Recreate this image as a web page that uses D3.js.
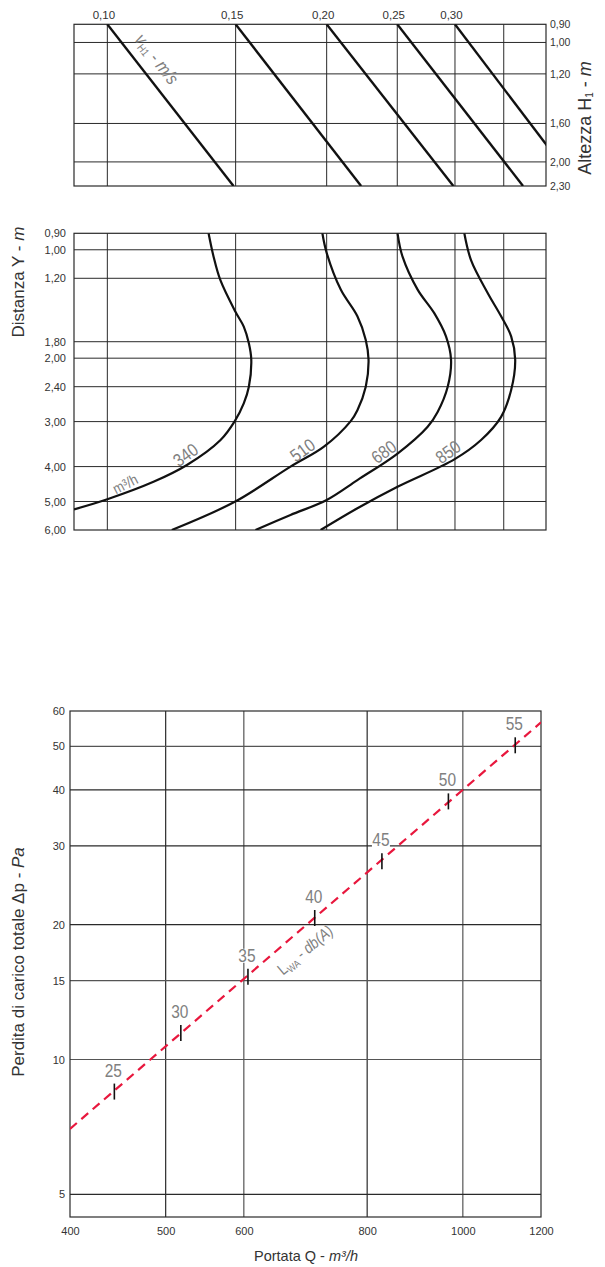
<!DOCTYPE html>
<html><head><meta charset="utf-8">
<script src="https://cdn.jsdelivr.net/npm/d3@7"></script>
<style>
body{margin:0;background:#fff;}
svg{display:block;}
.tk text{font-family:'Liberation Sans Narrow','Arial Narrow','Liberation Sans',sans-serif;font-size:11.5px;fill:#333;}
.title{font-family:'Liberation Sans',Arial,sans-serif;font-size:17px;fill:#333;}
.ann{font-family:'Liberation Sans Narrow','Arial Narrow','Liberation Sans',sans-serif;fill:#808080;}
</style></head><body>
<svg id="c" width="605" height="1267"></svg>
<script>
// ---------- DATA ----------
const velTicks = [0.10, 0.15, 0.20, 0.25, 0.30];
const velGrid = [0.10, 0.15, 0.20, 0.25, 0.30, 0.35];
const heightTicks = [0.90, 1.00, 1.20, 1.60, 2.00, 2.30];
// velocity lines: speed at H=0.90 (start) and at H=2.30 (end)
const velStart = [0.10, 0.15, 0.20, 0.25, 0.30];
const velEnd = [0.149, 0.223, 0.2985, 0.372, 0.442];

const distTicks = [0.90, 1.00, 1.20, 1.80, 2.00, 2.40, 3.00, 4.00, 5.00, 6.00];
const flowNames = ["340", "510", "680", "850"];
const curve340 = [[0.1377,0.90],[0.1399,1.045],[0.1429,1.213],[0.1499,1.486],[0.1539,1.635],[0.1564,1.819],[0.1576,2.02],[0.1564,2.40],[0.1539,2.67],[0.1496,2.99],[0.1429,3.38],[0.1286,3.96],[0.1157,4.41],[0.1000,4.93],[0.0900,5.26]];
const curve510 = [[0.1973,0.90],[0.2000,1.02],[0.2091,1.29],[0.2204,1.53],[0.2263,1.78],[0.2283,2.02],[0.2263,2.40],[0.2204,2.79],[0.2158,2.99],[0.1983,3.52],[0.1784,4.00],[0.1496,5.01],[0.1226,6.0]];
const curve680 = [[0.2502,0.90],[0.2542,1.045],[0.2666,1.29],[0.2810,1.50],[0.2916,1.74],[0.2963,2.02],[0.2932,2.40],[0.2840,2.82],[0.2752,3.10],[0.2502,3.68],[0.2204,4.36],[0.2000,4.95],[0.1784,5.45],[0.1597,6.0]];
const curve850 = [[0.3090,0.90],[0.3157,1.07],[0.3328,1.32],[0.3471,1.53],[0.3583,1.74],[0.3629,2.02],[0.3583,2.45],[0.3471,2.91],[0.3258,3.375],[0.2994,3.82],[0.2502,4.55],[0.2204,5.22],[0.1962,6.0]];
// label anchor points (velocity, distance)
const flowLabelPos = [[0.128,3.71],[0.1853,3.60],[0.2395,3.64],[0.2935,3.64]];

const qTicks = [400, 500, 600, 800, 1000, 1200];
const dpTicks = [5, 10, 15, 20, 30, 40, 50, 60];
const lwaLine = [[400, 7.0], [1200, 56.6]];
const lwaLevels = [25, 30, 35, 40, 45, 50, 55];
const lwaQ = [443.6, 518, 605.8, 707.9, 828, 966.9, 1130];
const lwaDp = [8.48, 11.46, 15.3, 20.7, 27.7, 37.7, 50.3];

// ---------- DRAW ----------
const svg = d3.select("#c");
const it = d3.formatLocale({decimal:",",thousands:".",grouping:[3],currency:["",""]});
const f2 = it.format(".2f");
const GRID = "#2a2a2a";
const NARROW = "scale(0.86,1)";

// ===== TOP CHART =====
const xV = d3.scaleLog().domain([0.09, 0.40]).range([74, 546]);
const yH = d3.scaleLog().domain([0.90, 2.30]).range([24.3, 186]);
const gT = svg.append("g");
gT.append("clipPath").attr("id","clipT").append("rect")
  .attr("x",74).attr("y",24.3).attr("width",472).attr("height",161.7);
gT.selectAll(".vg").data(velGrid).join("line")
  .attr("x1",d=>xV(d)).attr("x2",d=>xV(d)).attr("y1",yH.range()[0]).attr("y2",yH.range()[1])
  .attr("stroke",GRID).attr("stroke-width",1);
gT.selectAll(".hg").data(heightTicks.slice(1,-1)).join("line")
  .attr("x1",74).attr("x2",546).attr("y1",d=>yH(d)).attr("y2",d=>yH(d))
  .attr("stroke",GRID).attr("stroke-width",1);
gT.append("rect").attr("x",74).attr("y",24.3).attr("width",472).attr("height",161.7)
  .attr("fill","none").attr("stroke",GRID).attr("stroke-width",1.2);
const lnT = d3.line().x(d=>xV(d[0])).y(d=>yH(d[1]));
gT.append("g").attr("clip-path","url(#clipT)").selectAll("path")
  .data(velStart.map((v,i)=>[[v,0.90],[velEnd[i],2.30]])).join("path")
  .attr("d",lnT).attr("fill","none").attr("stroke","#111").attr("stroke-width",2.4);
// axes
const axT = gT.append("g").attr("class","tk").attr("transform","translate(0,24.3)")
  .call(d3.axisTop(xV).tickValues(velTicks).tickSize(0).tickPadding(5).tickFormat(f2));
axT.select(".domain").remove();
axT.selectAll("text").attr("dx",-4);
const axR = gT.append("g").attr("class","tk").attr("transform","translate(546,0)")
  .call(d3.axisRight(yH).tickValues(heightTicks).tickSize(0).tickPadding(4).tickFormat(f2));
axR.select(".domain").remove();
axR.selectAll("text").style("font-size","10.5px");
// title right
const tR = svg.append("text").attr("class","title").style("font-size","18px")
  .attr("transform","translate(591,118) rotate(-90)").attr("text-anchor","middle");
tR.append("tspan").text("Altezza H");
tR.append("tspan").attr("font-size","10px").attr("dy",2).text("1");
tR.append("tspan").attr("dy",-2).text(" - ");
tR.append("tspan").attr("font-style","italic").text("m");
// v label
const vl = svg.append("text").attr("class","ann").style("font-size","18px")
  .attr("transform",`translate(${xV(0.1170)},${yH(1.100)}) rotate(52) ${NARROW}`).attr("text-anchor","middle").attr("dy","0.35em");
vl.append("tspan").attr("font-style","italic").text("v");
vl.append("tspan").attr("font-size","11px").attr("dy",3).text("H1");
vl.append("tspan").attr("dy",-3).text(" - ");
vl.append("tspan").attr("font-style","italic").text("m/s");

// ===== MIDDLE CHART =====
const yY = d3.scaleLog().domain([0.90, 6.0]).range([233.3, 530]);
const gM = svg.append("g");
gM.append("clipPath").attr("id","clipM").append("rect")
  .attr("x",74).attr("y",233.3).attr("width",472).attr("height",296.7);
gM.selectAll(".vg").data(velGrid).join("line")
  .attr("x1",d=>xV(d)).attr("x2",d=>xV(d)).attr("y1",yY.range()[0]).attr("y2",yY.range()[1])
  .attr("stroke",GRID).attr("stroke-width",1);
gM.selectAll(".hg").data(distTicks.slice(1,-1)).join("line")
  .attr("x1",74).attr("x2",546).attr("y1",d=>yY(d)).attr("y2",d=>yY(d))
  .attr("stroke",GRID).attr("stroke-width",1);
gM.append("rect").attr("x",74).attr("y",233.3).attr("width",472).attr("height",296.7)
  .attr("fill","none").attr("stroke",GRID).attr("stroke-width",1.2);
const lnM = d3.line().x(d=>xV(d[0])).y(d=>yY(d[1])).curve(d3.curveCatmullRom.alpha(0.5));
gM.append("g").attr("clip-path","url(#clipM)").selectAll("path")
  .data([curve340, curve510, curve680, curve850]).join("path")
  .attr("d",lnM).attr("fill","none").attr("stroke","#111").attr("stroke-width",2.2);
const axM = gM.append("g").attr("class","tk").attr("transform","translate(74,0)")
  .call(d3.axisLeft(yY).tickValues(distTicks).tickSize(0).tickPadding(8).tickFormat(f2));
axM.select(".domain").remove();
axM.selectAll("text").style("font-size","11px");
gM.selectAll(".fl").data(flowNames).join("text").attr("class","ann").style("font-size","18px")
  .attr("text-anchor","middle").attr("dy","0.35em")
  .attr("transform",(d,i)=>`translate(${xV(flowLabelPos[i][0])},${yY(flowLabelPos[i][1])}) rotate(-36) ${NARROW}`)
  .text(d=>d);
const mh = gM.append("text").attr("class","ann").style("font-size","15px")
  .attr("text-anchor","middle").attr("dy","0.35em")
  .attr("transform",`translate(${xV(0.1058)},${yY(4.47)}) rotate(-27) ${NARROW}`);
mh.append("tspan").text("m³/h");
const tM = svg.append("text").attr("class","title")
  .attr("transform","translate(24,282) rotate(-90)").attr("text-anchor","middle");
tM.append("tspan").text("Distanza Y - ");
tM.append("tspan").attr("font-style","italic").text("m");

// ===== BOTTOM CHART =====
const xQ = d3.scaleLog().domain([400, 1200]).range([70, 541]);
const yP = d3.scaleLog().domain([4.45, 60]).range([1217, 711]);
const gB = svg.append("g");
gB.append("clipPath").attr("id","clipB").append("rect")
  .attr("x",70).attr("y",711).attr("width",471).attr("height",506);
gB.selectAll(".vg").data(qTicks.slice(1,-1)).join("line")
  .attr("x1",d=>xQ(d)).attr("x2",d=>xQ(d)).attr("y1",711).attr("y2",1217)
  .attr("stroke",(d,i)=>i%2?"#555":GRID).attr("stroke-width",1.2);
gB.selectAll(".hg").data(dpTicks.slice(0,-1)).join("line")
  .attr("x1",70).attr("x2",541).attr("y1",d=>yP(d)).attr("y2",d=>yP(d))
  .attr("stroke",(d)=>(d===10||d===50||d===15)?"#555":GRID).attr("stroke-width",1.2);
gB.append("rect").attr("x",70).attr("y",711).attr("width",471).attr("height",506)
  .attr("fill","none").attr("stroke",GRID).attr("stroke-width",1.2);
const axB = gB.append("g").attr("class","tk").attr("transform","translate(0,1217)")
  .call(d3.axisBottom(xQ).tickValues(qTicks).tickSize(0).tickPadding(10).tickFormat(d3.format("d")));
axB.select(".domain").remove();
axB.selectAll("text").style("font-size","11px");
const axL = gB.append("g").attr("class","tk").attr("transform","translate(70,0)")
  .call(d3.axisLeft(yP).tickValues(dpTicks).tickSize(0).tickPadding(5).tickFormat(d3.format("d")));
axL.select(".domain").remove();
axL.selectAll("text").style("font-size","11px");
// dashed line
const lnB = d3.line().x(d=>xQ(d[0])).y(d=>yP(d[1]));
gB.append("path").datum(lwaLine).attr("clip-path","url(#clipB)").attr("d",lnB)
  .attr("fill","none").attr("stroke","#e8173d").attr("stroke-width",2.2).attr("stroke-dasharray","9,6");
// markers
gB.selectAll(".mk").data(lwaLevels).join("line")
  .attr("x1",(d,i)=>xQ(lwaQ[i])).attr("x2",(d,i)=>xQ(lwaQ[i]))
  .attr("y1",(d,i)=>yP(lwaDp[i])-8).attr("y2",(d,i)=>yP(lwaDp[i])+8)
  .attr("stroke","#111").attr("stroke-width",1.6);
const lab = gB.selectAll(".lb").data(lwaLevels).join("g")
  .attr("transform",(d,i)=>`translate(${xQ(lwaQ[i])-1},${yP(lwaDp[i])-14})`);
lab.append("rect").attr("x",-9).attr("y",-14).attr("width",18).attr("height",14).attr("fill","#fff");
lab.append("text").attr("class","ann").style("font-size","18px").attr("text-anchor","middle")
  .attr("transform",NARROW).attr("y",-1).text(d=>d);
// LWA label
const lw = gB.append("text").attr("class","ann").style("font-size","16px")
  .attr("text-anchor","middle").attr("dy","0.35em")
  .attr("transform",`translate(${xQ(692)},${yP(17.56)}) rotate(-40) ${NARROW}`);
lw.append("tspan").text("L");
lw.append("tspan").attr("font-size","10px").attr("dy",3).text("WA");
lw.append("tspan").attr("dy",-3).text(" - ");
lw.append("tspan").attr("font-style","italic").text("db(A)");
// titles
const tX = svg.append("text").attr("class","title").style("font-size","14.5px").attr("x",306).attr("y",1261).attr("text-anchor","middle");
tX.append("tspan").text("Portata Q - ");
tX.append("tspan").attr("font-style","italic").text("m³/h");
const tY = svg.append("text").attr("class","title")
  .attr("transform","translate(24,962) rotate(-90)").attr("text-anchor","middle");
tY.append("tspan").text("Perdita di carico totale Δp - ");
tY.append("tspan").attr("font-style","italic").text("Pa");
</script></body></html>
